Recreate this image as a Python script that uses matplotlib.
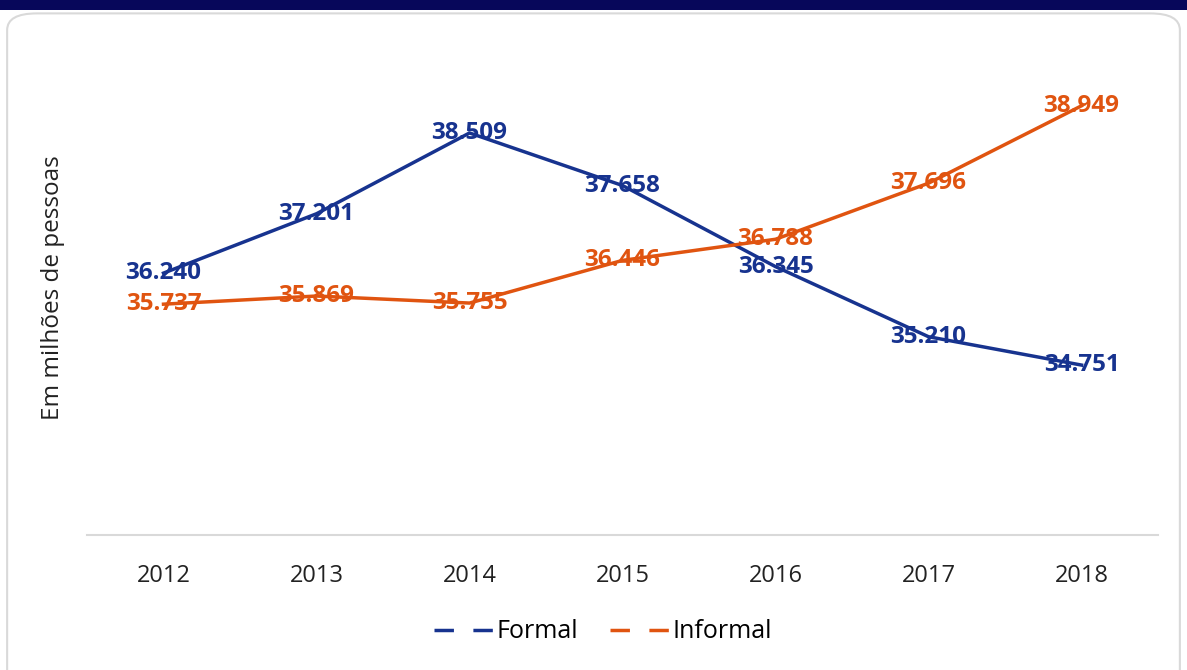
import matplotlib.pyplot as plt
from matplotlib.lines import Line2D
from matplotlib.patches import FancyBboxPatch, Rectangle

plt.rcParams["font.family"] = ["Open Sans", "DejaVu Sans"]

anos = ["2012", "2013", "2014", "2015", "2016", "2017", "2018"]
formal = [36.240, 37.201, 38.509, 37.658, 36.345, 35.210, 34.751]
informal = [35.737, 35.869, 35.755, 36.446, 36.788, 37.696, 38.949]

azul = "#17338f"
laranja = "#e05410"

fig = plt.figure(figsize=(11.87, 6.7), dpi=100)
fig.patch.set_facecolor("white")

# moldura arredondada e faixa escura no topo
fig.patches.append(FancyBboxPatch((0.006, -0.05), 0.988, 1.03, boxstyle="round,pad=0,rounding_size=0.025",
                                  transform=fig.transFigure, facecolor="white", edgecolor="#d9d9d9",
                                  linewidth=1.5, zorder=-5))
fig.patches.append(Rectangle((0, 0.985), 1, 0.015, transform=fig.transFigure,
                             facecolor="#07075a", edgecolor="none", zorder=5))

ax = fig.add_axes([0.0733, 0.2015, 0.9023, 0.7375])
ax.set_facecolor("none")
x = list(range(len(anos)))
ax.plot(x, formal, color=azul, lw=2.5, zorder=2)
ax.plot(x, informal, color=laranja, lw=2.5, zorder=2)

for i in x:
    ax.text(i, formal[i], f"{formal[i]:.3f}", color=azul, fontsize=17.5, fontweight="bold",
            ha="center", va="center", zorder=3)
    ax.text(i, informal[i], f"{informal[i]:.3f}", color=laranja, fontsize=17.5, fontweight="bold",
            ha="center", va="center", zorder=3)

ax.set_xlim(-0.5, len(anos) - 0.5)
ax.set_ylim(32, 40)
ax.set_xticks(x)
ax.set_xticklabels(anos, fontsize=17, color="#222222")
ax.set_yticks([])
ax.tick_params(axis="x", length=0, pad=21)
for s in ["top", "right", "left"]:
    ax.spines[s].set_visible(False)
ax.spines["bottom"].set_color("#d9d9d9")
ax.spines["bottom"].set_linewidth(1.5)
ax.set_ylabel("Em milhões de pessoas", fontsize=17.5, color="#222222")
ax.yaxis.set_label_coords(-0.0205, 0.5)

handles = [Line2D([], [], color=azul, lw=2.5, dashes=(5.6, 5.6)),
           Line2D([], [], color=laranja, lw=2.5, dashes=(5.6, 5.6))]
fig.legend(handles, ["Formal", "Informal"], loc="center", bbox_to_anchor=(0.508, 0.057), ncol=2,
           frameon=False, fontsize=18, handlelength=2.4, handletextpad=0.1, columnspacing=1.3)

fig.savefig("out.png", dpi=100)
